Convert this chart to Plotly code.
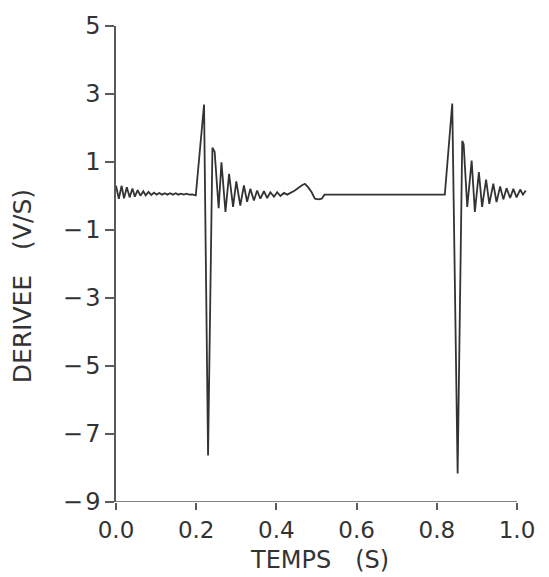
import plotly.graph_objects as go

# Time (s) and derivative (V/s) vertices
time_s = [
    0.000, 0.007, 0.014, 0.020, 0.027, 0.034, 0.041, 0.047, 0.054, 0.061,
    0.068, 0.074, 0.081, 0.088, 0.095, 0.101, 0.108, 0.115, 0.122, 0.128,
    0.135, 0.142, 0.149, 0.155, 0.162, 0.169, 0.176, 0.182, 0.190, 0.199,
    0.2196, 0.2296, 0.2405, 0.246, 0.256, 0.263, 0.273, 0.282, 0.292, 0.300,
    0.310, 0.319, 0.327, 0.335, 0.344, 0.352, 0.360, 0.369, 0.377, 0.385,
    0.394, 0.402, 0.410, 0.419, 0.427, 0.446, 0.463, 0.471, 0.479, 0.488,
    0.496, 0.505, 0.513, 0.520, 0.820, 0.8386, 0.852, 0.8635, 0.867, 0.876,
    0.887, 0.895, 0.905, 0.913, 0.923, 0.931, 0.941, 0.949, 0.958, 0.966,
    0.974, 0.983, 0.991, 0.999, 1.008, 1.015, 1.022,
]
deriv_v_s = [
    0.30, -0.08, 0.30, -0.07, 0.26, -0.04, 0.22, -0.02, 0.17, 0.01,
    0.14, 0.02, 0.12, 0.03, 0.10, 0.04, 0.09, 0.04, 0.08, 0.04,
    0.08, 0.04, 0.08, 0.04, 0.07, 0.04, 0.07, 0.04, 0.05, 0.02,
    2.69, -7.63, 1.42, 1.30, -0.36, 0.99, -0.47, 0.65, -0.32, 0.43,
    -0.28, 0.31, -0.17, 0.21, -0.13, 0.16, -0.08, 0.14, -0.06, 0.11,
    -0.02, 0.11, 0.00, 0.09, 0.04, 0.16, 0.31, 0.36, 0.26, 0.11,
    -0.08, -0.10, -0.08, 0.04, 0.04, 2.72, -8.16, 1.62, 1.52, -0.32,
    1.04, -0.47, 0.70, -0.32, 0.48, -0.23, 0.36, -0.18, 0.28, -0.10,
    0.23, -0.06, 0.21, -0.04, 0.19, 0.04, 0.16,
]

x_ticks = [0.0, 0.2, 0.4, 0.6, 0.8, 1.0]
x_tick_text = ["0.0", "0.2", "0.4", "0.6", "0.8", "1.0"]
y_ticks = [5, 3, 1, -1, -3, -5, -7, -9]
y_tick_text = ["5", "3", "1", "\u2212\u200a1", "\u2212\u200a3", "\u2212\u200a5", "\u2212\u200a7", "\u2212\u200a9"]

FONT = "DejaVu Sans"
AX = "#5a5a5a"
TXT = "#333333"

fig = go.Figure()
fig.add_trace(go.Scatter(
    x=time_s, y=deriv_v_s, mode="lines",
    line=dict(color="#333333", width=1.8),
    showlegend=False, hoverinfo="skip",
))

# x axis line ending at 1.0 (the trace runs a little past it)
fig.add_shape(type="line", xref="x", yref="y", x0=x_ticks[0], x1=x_ticks[-1],
              y0=y_ticks[-1], y1=y_ticks[-1], line=dict(color=AX, width=1.5))

fig.update_layout(
    width=549, height=577,
    margin=dict(l=116, r=20, t=23, b=75),
    paper_bgcolor="white", plot_bgcolor="white",
    font=dict(family=FONT, size=23, color=TXT),
    xaxis=dict(range=[0, 1.03], tickmode="array", tickvals=x_ticks, ticktext=x_tick_text,
               ticks="outside", ticklen=7, tickwidth=1.5, tickcolor=AX,
               showline=False, showgrid=False, zeroline=False,
               tickfont=dict(family=FONT, size=23, color=TXT)),
    yaxis=dict(range=[-9, 5], tickmode="array", tickvals=y_ticks, ticktext=y_tick_text,
               ticks="outside", ticklen=9, tickwidth=1.5, tickcolor=AX,
               showline=True, linecolor=AX, linewidth=1.5,
               showgrid=False, zeroline=False,
               tickfont=dict(family=FONT, size=24, color=TXT)),
    annotations=[
        dict(text="TEMPS\u2002\u2002(S)", xref="paper", yref="paper",
             x=(319 - 116) / (549 - 136), y=-(560 - 502) / (577 - 98),
             xanchor="center", yanchor="middle", showarrow=False,
             font=dict(family=FONT, size=24, color=TXT)),
        dict(text="DERIVEE\u2002\u2002(V/S)", xref="paper", yref="paper",
             x=-(116 - 22) / (549 - 136), y=(502 - 285) / (577 - 98),
             xanchor="center", yanchor="middle", textangle=-90, showarrow=False,
             font=dict(family=FONT, size=25, color=TXT)),
    ],
)

fig.write_html("out.html")
